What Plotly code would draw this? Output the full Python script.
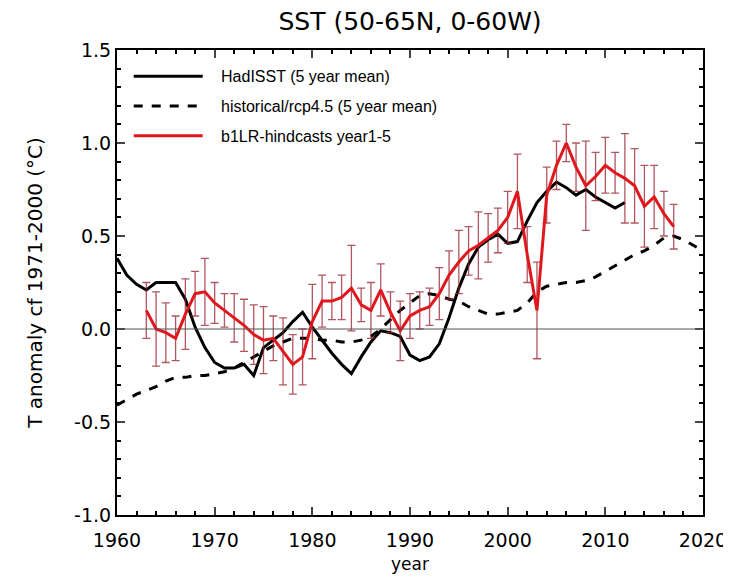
import plotly.graph_objects as go

# HadISST (5 year mean), annual
had_years = list(range(1960, 2013))
had_vals = [0.38, 0.29, 0.24, 0.21, 0.25, 0.25, 0.25, 0.16, 0.01, -0.10,
            -0.18, -0.21, -0.21, -0.19, -0.25, -0.10, -0.06, -0.02, 0.04, 0.09,
            0.01, -0.06, -0.13, -0.19, -0.24, -0.15, -0.07, -0.01, -0.02, -0.04,
            -0.14, -0.17, -0.15, -0.08, 0.06, 0.22, 0.35, 0.44, 0.48, 0.51,
            0.46, 0.47, 0.58, 0.68, 0.74, 0.79, 0.76, 0.72, 0.75, 0.71,
            0.68, 0.65, 0.68]

# historical/rcp4.5 (5 year mean)
hist_years = list(range(1960, 2021))
hist_vals = [-0.41, -0.38, -0.35, -0.33, -0.31, -0.28, -0.26, -0.26, -0.25, -0.25,
             -0.24, -0.23, -0.21, -0.18, -0.15, -0.12, -0.09, -0.07, -0.05, -0.05,
             -0.05, -0.06, -0.06, -0.07, -0.07, -0.06, -0.04, 0.00, 0.05, 0.10,
             0.14, 0.18, 0.19, 0.18, 0.16, 0.15, 0.12, 0.10, 0.08, 0.08,
             0.09, 0.10, 0.14, 0.20, 0.23, 0.24, 0.25, 0.25, 0.26, 0.28,
             0.31, 0.34, 0.37, 0.40, 0.42, 0.45, 0.49, 0.50, 0.48, 0.45,
             0.42]

# b1LR-hindcasts year1-5 with spread
hc_years = list(range(1963, 2018))
hc_vals = [0.10, 0.00, -0.02, -0.05, 0.08, 0.19, 0.20, 0.14, 0.10, 0.06,
           0.02, -0.03, -0.06, -0.05, -0.12, -0.19, -0.15, 0.04, 0.15, 0.15,
           0.17, 0.22, 0.13, 0.10, 0.21, 0.09, -0.01, 0.07, 0.10, 0.12,
           0.19, 0.29, 0.36, 0.42, 0.45, 0.49, 0.53, 0.60, 0.74, 0.40,
           0.10, 0.72, 0.88, 1.00, 0.87, 0.77, 0.82, 0.88, 0.84, 0.81,
           0.77, 0.66, 0.71, 0.62, 0.55]
hc_err = [0.15, 0.20, 0.16, 0.12, 0.19, 0.12, 0.18, 0.11, 0.09, 0.13,
          0.14, 0.16, 0.18, 0.12, 0.18, 0.16, 0.15, 0.20, 0.14, 0.10,
          0.12, 0.23, 0.09, 0.15, 0.14, 0.11, 0.16, 0.12, 0.10, 0.10,
          0.14, 0.13, 0.17, 0.13, 0.18, 0.13, 0.12, 0.14, 0.20, 0.15,
          0.26, 0.15, 0.13, 0.10, 0.13, 0.24, 0.13, 0.15, 0.11, 0.24,
          0.20, 0.22, 0.17, 0.12, 0.12]

x_ticks = [1960, 1970, 1980, 1990, 2000, 2010, 2020]
y_ticks = [-1.0, -0.5, 0.0, 0.5, 1.0, 1.5]
y_ticktext = ["-1.0", "-0.5", "0.0", "0.5", "1.0", "1.5"]

FONT = "Liberation Sans, Arial, sans-serif"
WIDE = "DejaVu Sans, sans-serif"
PAD = "\u00a0\u00a0\u00a0"

fig = go.Figure()

fig.add_trace(go.Scatter(
    x=had_years, y=had_vals, mode="lines", name=PAD + "HadISST (5 year mean)",
    line=dict(color="black", width=3), legendgroup="a"))
fig.add_trace(go.Scatter(
    x=hist_years, y=hist_vals, mode="lines", name=PAD + "historical/rcp4.5 (5 year mean)",
    line=dict(color="black", width=3, dash="dash"), legendgroup="b"))
fig.add_trace(go.Scatter(
    x=hc_years, y=hc_vals, mode="lines", name=PAD + "b1LR-hindcasts year1-5",
    line=dict(color="#e0181e", width=3), legendgroup="c",
    error_y=dict(type="data", array=hc_err, visible=True,
                 color="rgba(150,30,40,0.75)", thickness=1.3, width=4)))

fig.add_hline(y=0, line=dict(color="#555555", width=1))

fig.update_layout(
    width=731, height=581,
    margin=dict(l=109, r=36, t=42, b=74),
    paper_bgcolor="white", plot_bgcolor="white",
    font=dict(family=FONT, color="black", size=17),
    title=dict(text="SST (50-65N, 0-60W)", x=0.55, xanchor="center",
               y=0.9776, yanchor="middle", font=dict(size=25, family=WIDE)),
    showlegend=True,
    legend=dict(x=0.02, y=0.98, xanchor="left", yanchor="top",
                bgcolor="rgba(0,0,0,0)", font=dict(size=16, family=FONT),
                itemwidth=69, tracegroupgap=6),
)

fig.update_xaxes(
    range=[1960, 2020], tickvals=x_ticks, ticks="inside", ticklen=8, tickwidth=1.5,
    showline=True, linecolor="black", linewidth=2, mirror="ticks",
    showgrid=False, zeroline=False, ticklabelstandoff=7,
    tickfont=dict(size=19, family=WIDE),
    title=dict(text="year", font=dict(size=17, family=WIDE), standoff=8),
    minor=dict(dtick=2, ticks="inside", ticklen=4, tickcolor="black", showgrid=False),
)
fig.update_yaxes(
    range=[-1.0, 1.5], tickvals=y_ticks, ticktext=y_ticktext,
    ticks="inside", ticklen=8, tickwidth=1.5,
    showline=True, linecolor="black", linewidth=2, mirror="ticks",
    showgrid=False, zeroline=False,
    tickfont=dict(size=19, family=WIDE),
    title=dict(text="T anomaly cf 1971-2000 (°C)", font=dict(size=20, family=WIDE), standoff=26),
    minor=dict(dtick=0.1, ticks="inside", ticklen=4, tickcolor="black", showgrid=False),
)

fig.write_html("out.html")
